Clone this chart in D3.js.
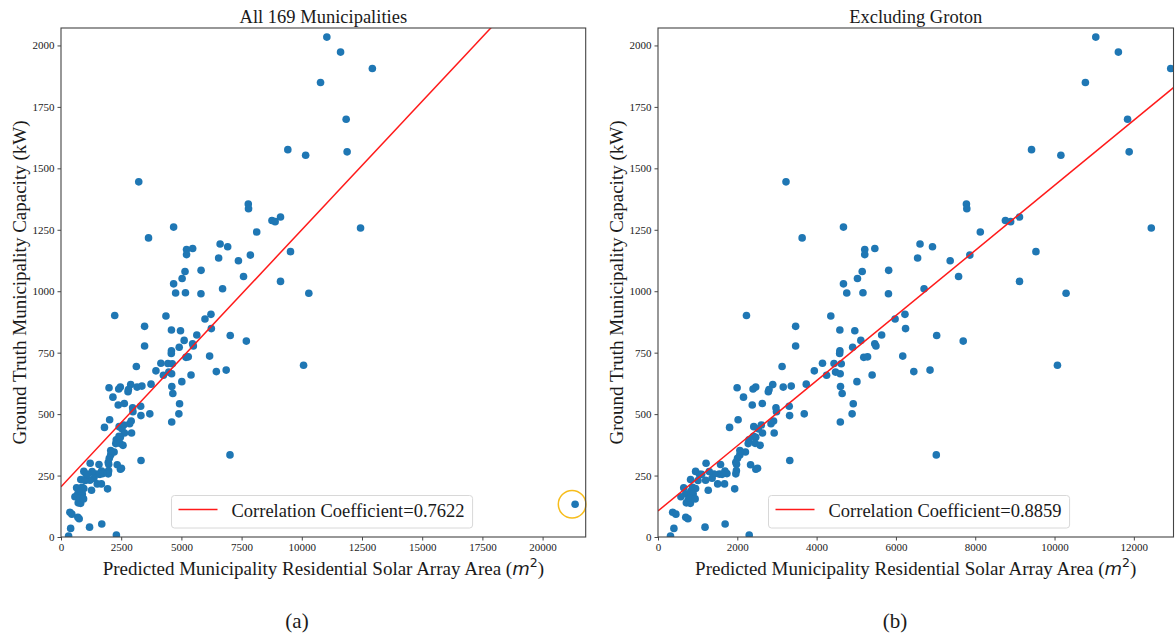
<!DOCTYPE html>
<html><head><meta charset="utf-8">
<script src="https://cdn.jsdelivr.net/npm/d3@7"></script>
<style>
body{margin:0;background:#fff}
svg{display:block}
text{font-family:"Liberation Serif","Times New Roman",serif;fill:#1a1a1a}
</style>
</head><body>
<svg id="chart" width="1175" height="635"></svg>
<script>
// ---- data ----
const areaM2 = [
 11040,11610,12930,10778,11842,9420,10160,11882,7778,7788,8761,8893,9116,8128,12440,
 6608,6922,6547,7368,7864,9531,7580,9116,3228,3635,4677,5214,5214,5468,5817,5150,5030,
 4677,4760,5169,5812,6710,10291,10073,7018,7028,7697,6451,6860,6172,5400,6243,6228,5979,
 5640,2231,4358,3471,4586,4963,5115,5466,5496,4586,4581,3471,4909,5189,5285,3129,4148,
 4439,4621,4477,4594,4252,3942,5017,4602,4644,4924,4895,4598,3688,3319,3309,3323,3739,
 3158,3360,2894,2782,2464,2397,1995,2156,2377,2630,2975,2988,1805,2020,2415,2530,2605,
 2850,2915,2930,2635,2465,2295,2275,2450,2575,2205,2063,2005,1962,2335,2468,2510,1977,
 1962,1934,1212,1577,1688,1546,1414,1738,1292,1363,1201,1505,1678,1267,948,1045,821,
 1009,649,872,948,698,826,867,767,578,715,816,370,451,700,755,401,1186,1693,315,2300,
 2065,1980,1617,1100,887,805,937,2410,2800
];
const capacityKW = [
 2034,1973,1906,1849,1700,1576,1553,1567,1355,1336,1288,1283,1302,1241,1257,
 1192,1181,1135,1124,1147,1161,1060,1040,1445,1217,1261,1170,1149,1174,1085,1080,1052,
 1030,993,994,990,1010,992,699,334,820,797,673,679,736,659,848,906,887,
 822,901,899,857,842,839,800,786,777,758,747,777,772,731,733,694,707,
 706,705,671,664,658,676,632,612,584,542,501,468,501,494,532,311,622,
 610,614,620,591,610,602,607,569,537,543,526,510,446,477,449,440,456,
 461,472,423,423,406,395,380,381,373,346,334,320,304,294,276,280,270,
 257,196,300,295,268,256,256,258,266,239,231,216,216,190,267,255,234,
 230,200,202,197,176,186,163,152,164,139,137,101,93,80,74,35,40,53,4,8,
 352,296,255,255,175,158,155,410,600
];
const grotonArea = [21350];
const grotonCapacity = [133];

const panelTitles = ["All 169 Municipalities", "Excluding Groton"];
const panelLetters = ["(a)", "(b)"];
const correlations = ["0.7622", "0.8859"];
const fitIntercepts = [204, 106];
const fitSlopes = [0.1046, 0.1325];
const xMaxima = [21790, 13000];
const yMaximum = 2071;
const xTicksAll = [0, 2500, 5000, 7500, 10000, 12500, 15000, 17500, 20000];
const xTicksExcl = [0, 2000, 4000, 6000, 8000, 10000, 12000];
const yTicks = [0, 250, 500, 750, 1000, 1250, 1500, 1750, 2000];

// ---- layout ----
const svg = d3.select("#chart");
const panels = [
  {left: 61, right: 585.7, top: 28, bottom: 537, xTicks: xTicksAll, withGroton: true,
   ylabX: 20, letterX: 297},
  {left: 658, right: 1173.5, top: 28, bottom: 537, xTicks: xTicksExcl, withGroton: false,
   ylabX: 617, letterX: 895}
];

const pts = areaM2.map((a, i) => ({x: a, y: capacityKW[i]}));

panels.forEach((p, k) => {
  const x = d3.scaleLinear().domain([0, xMaxima[k]]).range([p.left, p.right]);
  const y = d3.scaleLinear().domain([0, yMaximum]).range([p.bottom, p.top]);
  const g = svg.append("g");
  const cx = (p.left + p.right) / 2;

  const clipId = "clip" + k;
  svg.append("clipPath").attr("id", clipId).append("rect")
    .attr("x", p.left).attr("y", p.top)
    .attr("width", p.right - p.left).attr("height", p.bottom - p.top);

  // axes
  const xa = g.append("g").attr("transform", `translate(0,${p.bottom})`)
    .call(d3.axisBottom(x).tickValues(p.xTicks).tickFormat(d3.format("d")).tickSize(3.5).tickPadding(3));
  const ya = g.append("g").attr("transform", `translate(${p.left},0)`)
    .call(d3.axisLeft(y).tickValues(yTicks).tickFormat(d3.format("d")).tickSize(3.5).tickPadding(3));
  [xa, ya].forEach(a => {
    a.select(".domain").remove();
    a.selectAll("line").attr("stroke", "#333").attr("stroke-width", 0.9);
    a.selectAll("text").style("font-family", '"Liberation Serif",serif')
      .style("font-size", "11px").attr("fill", "#1a1a1a");
  });

  // points
  const data = p.withGroton ? pts.concat([{x: grotonArea[0], y: grotonCapacity[0]}]) : pts;
  g.append("g").attr("clip-path", `url(#${clipId})`).selectAll("circle").data(data).join("circle")
    .attr("cx", d => x(d.x)).attr("cy", d => y(d.y)).attr("r", 3.8)
    .attr("fill", "#1f77b4");

  // regression line
  const xs = [0, xMaxima[k]];
  g.append("path").attr("clip-path", `url(#${clipId})`)
    .attr("d", d3.line()(xs.map(v => [x(v), y(fitIntercepts[k] + fitSlopes[k] * v)])))
    .attr("stroke", "#ff1a1a").attr("stroke-width", 1.5).attr("fill", "none");

  // Groton highlight
  if (p.withGroton) {
    g.append("circle").attr("cx", x(grotonArea[0]) - 3).attr("cy", y(grotonCapacity[0]))
      .attr("r", 13.8).attr("fill", "none").attr("stroke", "#f7bd1c").attr("stroke-width", 1.5);
  }

  // frame
  g.append("rect").attr("x", p.left).attr("y", p.top)
    .attr("width", p.right - p.left).attr("height", p.bottom - p.top)
    .attr("fill", "none").attr("stroke", "#444").attr("stroke-width", 1.1);

  // legend
  const lx = p.left + 110.5, ly = 495.5;
  const lg = g.append("g");
  const box = lg.append("rect").attr("x", lx).attr("y", ly).attr("height", 32.5)
    .attr("rx", 3).attr("fill", "#fff").attr("fill-opacity", 0.85)
    .attr("stroke", "#d8d8d8").attr("stroke-width", 1);
  lg.append("line").attr("x1", lx + 7).attr("x2", lx + 46).attr("y1", ly + 14).attr("y2", ly + 14)
    .attr("stroke", "#ff1a1a").attr("stroke-width", 1.5);
  const lt = lg.append("text").attr("x", lx + 60).attr("y", ly + 21)
    .style("font-size", "18.5px").text("Correlation Coefficient=" + correlations[k]);
  const tw = lt.node().getComputedTextLength();
  box.attr("width", 60 + tw + 8);

  // titles and labels
  svg.append("text").attr("x", cx).attr("y", 23).attr("text-anchor", "middle")
    .style("font-size", "18.5px").text(panelTitles[k]);

  const xl = svg.append("text").attr("x", cx).attr("y", 575).attr("text-anchor", "middle")
    .style("font-size", "19px");
  xl.append("tspan").text("Predicted Municipality Residential Solar Array Area (");
  xl.append("tspan").style("font-family", '"DejaVu Sans",sans-serif').style("font-style", "italic")
    .style("font-size", "18px").text("m");
  xl.append("tspan").style("font-family", '"DejaVu Sans",sans-serif').style("font-size", "12.5px")
    .attr("dy", -8).text("2");
  xl.append("tspan").attr("dy", 8).text(")");

  svg.append("text").attr("transform", `translate(${p.ylabX + 6},${(p.top + p.bottom) / 2}) rotate(-90)`)
    .attr("text-anchor", "middle").style("font-size", "19px")
    .text("Ground Truth Municipality Capacity (kW)");

  svg.append("text").attr("x", p.letterX).attr("y", 628).attr("text-anchor", "middle")
    .style("font-size", "21px").text(panelLetters[k]);
});
</script>
</body></html>
